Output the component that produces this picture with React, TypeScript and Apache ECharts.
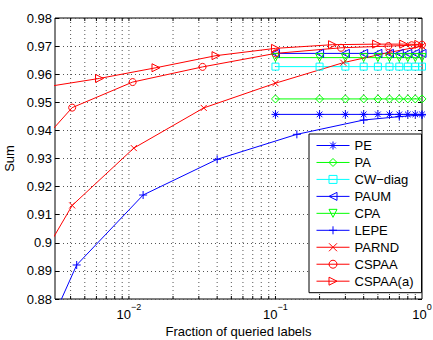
import React, { useEffect, useRef } from "react";
import * as echarts from "echarts";

// Fraction of queried labels at which the pool-based methods were evaluated
const fracGrid = [0.1, 0.2, 0.3, 0.4, 0.5, 0.6, 0.7, 0.8, 0.9, 1.0];

const peSum = [0.9457, 0.9457, 0.9457, 0.9457, 0.9457, 0.9457, 0.9457, 0.9457, 0.9457, 0.9457];
const paSum = [0.9512, 0.9512, 0.9512, 0.9512, 0.9512, 0.9512, 0.9512, 0.9512, 0.9512, 0.9512];
const cwDiagSum = [0.9627, 0.9627, 0.9627, 0.9627, 0.9627, 0.9627, 0.9627, 0.9627, 0.9627, 0.9627];
const paumSum = [0.9674, 0.9674, 0.9674, 0.9674, 0.9674, 0.9674, 0.9674, 0.9674, 0.9674, 0.9674];
const cpaSum = [0.9659, 0.9659, 0.9659, 0.9659, 0.9659, 0.9659, 0.9659, 0.9659, 0.9659, 0.9659];

const lepeFrac = [0.003, 0.0044, 0.0125, 0.04, 0.14, 0.4, 0.7, 1.0];
const lepeSum = [0.8727, 0.8921, 0.917, 0.9297, 0.9386, 0.9437, 0.9449, 0.9455];

const parndFrac = [0.003, 0.0041, 0.0108, 0.0324, 0.1, 0.29, 0.59, 1.0];
const parndSum = [0.9012, 0.9133, 0.9337, 0.948, 0.9568, 0.9641, 0.9677, 0.97];

const cspaaFrac = [0.003, 0.0041, 0.0106, 0.0318, 0.1, 0.28, 0.59, 0.85, 1.0];
const cspaaSum = [0.9402, 0.9481, 0.9572, 0.9626, 0.9674, 0.9694, 0.97, 0.9703, 0.9705];

const cspaaAFrac = [0.002, 0.0063, 0.0153, 0.0393, 0.1, 0.245, 0.49, 0.75, 0.95];
const cspaaASum = [0.9544, 0.9585, 0.9623, 0.9666, 0.9692, 0.9705, 0.9707, 0.9707, 0.9706];

// Axis setup
const xMin = 0.00313;
const xMax = 1;
const yMin = 0.88;
const yMax = 0.98;
const yStep = 0.01;
const decadeExponents = [-2, -1, 0];
const decadeLabels = ["\u22122", "\u22121", "0"];

const FONT = "'Liberation Sans', Arial, Helvetica, sans-serif";
const BLUE = "#0000ff";
const GREEN = "#00ff00";
const CYAN = "#00ffff";
const RED = "#ff0000";

const SYM_STAR = "path://M5 0L5 10M0 5L10 5M1.5 1.5L8.5 8.5M1.5 8.5L8.5 1.5";
const SYM_PLUS = "path://M5 0L5 10M0 5L10 5";
const SYM_CROSS = "path://M0 0L10 10M0 10L10 0";
const SYM_TRI_LEFT = "path://M10 0L0 5L10 10Z";
const SYM_TRI_RIGHT = "path://M0 0L10 5L0 10Z";
const SYM_TRI_DOWN = "path://M0 0L10 0L5 10Z";

type Spec = {
  name: string;
  xs: number[];
  ys: number[];
  color: string;
  symbol: string;
  size: number;
};

const specs: Spec[] = [
  { name: "PE", xs: fracGrid, ys: peSum, color: BLUE, symbol: SYM_STAR, size: 8 },
  { name: "PA", xs: fracGrid, ys: paSum, color: GREEN, symbol: "diamond", size: 8 },
  { name: "CW\u2212diag", xs: fracGrid, ys: cwDiagSum, color: CYAN, symbol: "rect", size: 7 },
  { name: "PAUM", xs: fracGrid, ys: paumSum, color: BLUE, symbol: SYM_TRI_LEFT, size: 8 },
  { name: "CPA", xs: fracGrid, ys: cpaSum, color: GREEN, symbol: SYM_TRI_DOWN, size: 8 },
  { name: "LEPE", xs: lepeFrac, ys: lepeSum, color: BLUE, symbol: SYM_PLUS, size: 8 },
  { name: "PARND", xs: parndFrac, ys: parndSum, color: RED, symbol: SYM_CROSS, size: 6 },
  { name: "CSPAA", xs: cspaaFrac, ys: cspaaSum, color: RED, symbol: "circle", size: 7 },
  { name: "CSPAA(a)", xs: cspaaAFrac, ys: cspaaASum, color: RED, symbol: SYM_TRI_RIGHT, size: 8 },
];

// every x tick position (decades and their 2..9 subdivisions) inside the axis
function logTickPositions(): number[] {
  const out: number[] = [];
  for (let e = -3; e <= 0; e++) {
    for (let m = 1; m <= 9; m++) {
      const v = m * Math.pow(10, e);
      if (v > xMin * 1.0001 && v < xMax * 0.9999) out.push(v);
    }
  }
  return out;
}

function lineSeries(s: Spec) {
  return {
    name: s.name,
    type: "line",
    data: s.xs.map((x, i) => [x, s.ys[i]]),
    symbol: s.symbol,
    symbolSize: s.size,
    showSymbol: true,
    clip: true,
    lineStyle: { color: s.color, width: 1 },
    itemStyle: { color: "none", borderColor: s.color, borderWidth: 1 },
    emphasis: { disabled: true },
    z: 3,
  };
}

export default function App() {
  const ref = useRef<HTMLDivElement>(null);

  useEffect(() => {
    if (!ref.current) return;
    const chart = echarts.init(ref.current, undefined, { renderer: "svg" });

    const tickXs = logTickPositions();

    const gridSeries = {
      type: "custom",
      silent: true,
      z: 1,
      data: tickXs.map((x) => [x, (yMin + yMax) / 2]),
      renderItem: (_params: any, api: any) => {
        const x = api.value(0);
        const top = api.coord([x, yMax]);
        const bot = api.coord([x, yMin]);
        const dotted = { stroke: "#555", lineWidth: 1, lineDash: [1, 3] };
        const solid = { stroke: "#000", lineWidth: 1 };
        return {
          type: "group",
          children: [
            {
              type: "line",
              shape: { x1: top[0], y1: top[1], x2: bot[0], y2: bot[1] },
              style: dotted,
            },
            {
              type: "line",
              shape: { x1: bot[0], y1: bot[1], x2: bot[0], y2: bot[1] - 3 },
              style: solid,
            },
            {
              type: "line",
              shape: { x1: top[0], y1: top[1], x2: top[0], y2: top[1] + 3 },
              style: solid,
            },
          ],
        };
      },
    };

    const series = [gridSeries, ...specs.map(lineSeries)];

    chart.setOption({
      animation: false,
      backgroundColor: "#fff",
      textStyle: { fontFamily: FONT },
      grid: {
        left: 55,
        top: 18,
        right: 11,
        bottom: 41,
        show: true,
        borderColor: "#000",
        borderWidth: 1,
        backgroundColor: "transparent",
        containLabel: false,
        outerBoundsMode: "none",
      },
      legend: {
        data: specs.map((s) => ({
          name: s.name,
          itemStyle: { color: "none", borderColor: s.color, borderWidth: 1 },
          lineStyle: { color: s.color, width: 1 },
        })),
        orient: "vertical",
        left: 309,
        top: 134,
        padding: [5, 8, 5, 7],
        itemWidth: 33,
        itemHeight: 10,
        itemGap: 3.96,
        selectedMode: false,
        backgroundColor: "#fff",
        borderColor: "#000",
        borderWidth: 1,
        borderRadius: 0,
        textStyle: {
          fontFamily: FONT,
          fontSize: 13,
          color: "#000",
        },
      },
      xAxis: {
        type: "log",
        logBase: 10,
        min: xMin,
        max: xMax,
        name: "Fraction of queried labels",
        nameLocation: "middle",
        nameGap: 21,
        nameTextStyle: { fontFamily: FONT, fontSize: 13, color: "#000" },
        axisLine: { show: false },
        axisTick: { show: false },
        splitLine: { show: false },
        axisLabel: {
          margin: 3,
          color: "#000",
          fontFamily: FONT,
          formatter: (v: number) => {
            const lg = Math.log10(v);
            const e = Math.round(lg);
            if (Math.abs(lg - e) > 1e-6) return "";
            const idx = decadeExponents.indexOf(e);
            if (idx < 0) return "";
            return "{b|10}{s|" + decadeLabels[idx] + "}";
          },
          rich: {
            b: { fontSize: 13, fontFamily: FONT, color: "#000" },
            s: {
              fontSize: 9,
              fontFamily: FONT,
              color: "#000",
              padding: [0, 0, 15, 0],
            },
          },
        },
      },
      yAxis: [
        {
          type: "value",
          min: yMin,
          max: yMax,
          interval: yStep,
          name: "Sum",
          nameLocation: "middle",
          nameGap: 37,
          nameTextStyle: { fontFamily: FONT, fontSize: 13, color: "#000" },
          axisLine: { show: false },
          axisTick: { show: true, inside: true, length: 4, lineStyle: { color: "#000" } },
          splitLine: {
            show: true,
            lineStyle: { color: "#555", width: 1, type: [1, 3] },
          },
          axisLabel: {
            margin: 3,
            color: "#000",
            fontSize: 13,
            fontFamily: FONT,
            formatter: (v: number) => String(parseFloat(v.toFixed(2))),
          },
        },
        {
          type: "value",
          position: "right",
          min: yMin,
          max: yMax,
          interval: yStep,
          axisLine: { show: false },
          axisTick: { show: true, inside: true, length: 4, lineStyle: { color: "#000" } },
          splitLine: { show: false },
          axisLabel: { show: false },
        },
      ],
      series,
    });

    return () => {
      chart.dispose();
    };
  }, []);

  return (
    <div
      ref={ref}
      style={{ position: "absolute", left: 0, top: 0, width: 433, height: 340 }}
    />
  );
}
